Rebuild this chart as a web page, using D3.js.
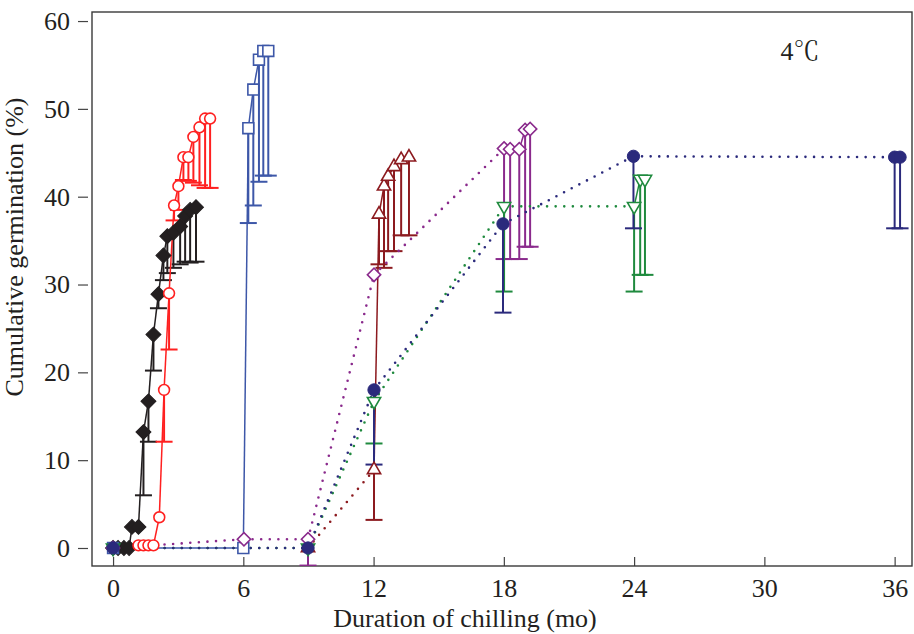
<!DOCTYPE html>
<html>
<head>
<meta charset="utf-8">
<script src="https://cdn.jsdelivr.net/npm/d3@7"></script>
<style>
  body { margin: 0; background: #fff; }
  text { font-family: "Liberation Serif", "Times New Roman", serif; fill: #231f20; }
</style>
</head>
<body>
<div class="chart"></div>
<script>
const xTicks = [0, 6, 12, 18, 24, 30, 36];
const yTicks = [0, 10, 20, 30, 40, 50, 60];

// black diamonds
const blackMo  = [0, 0.23, 0.5, 0.74, 0.87, 1.17, 1.4, 1.63, 1.86, 2.09, 2.32, 2.5, 2.78, 3.09, 3.32, 3.55, 3.82];
const blackVal = [0, 0, 0, 0, 2.4, 2.4, 13.2, 16.7, 24.3, 28.9, 33.3, 35.5, 35.9, 36.6, 37.8, 38.5, 38.8];
const blackLow = [null, null, null, null, null, null, 6.0, 12.1, 20.2, 27.3, 30.5, 31.3, 31.9, 32.3, 32.6, 32.5, 32.6];

// red open circles
const redMo  = [1.17, 1.4, 1.63, 1.86, 2.13, 2.35, 2.58, 2.81, 3.01, 3.24, 3.47, 3.7, 3.98, 4.24, 4.47];
const redVal = [0.3, 0.3, 0.3, 0.3, 3.5, 18.0, 29.0, 39.0, 41.2, 44.5, 44.5, 46.8, 47.9, 48.9, 48.9];
const redLow = [null, null, null, null, null, 12.1, 22.6, 37.3, 38.5, 41.9, 41.8, 41.6, 41.3, 41.0, 41.0];

// blue open squares
const blueMo  = [0, 6.0, 6.23, 6.46, 6.72, 6.92, 7.15];
const blueVal = [0, 0, 47.8, 52.2, 55.6, 56.6, 56.6];
const blueLow = [null, null, 37.0, 39.0, 41.7, 42.4, 42.4];

// dark red open triangles
const darkRedMo  = [8.98, 12.02, 12.25, 12.48, 12.67, 12.94, 13.27, 13.63];
const darkRedVal = [0, 8.9, 38.0, 41.2, 42.3, 43.4, 44.2, 44.5];
const darkRedLow = [null, 3.2, 32.3, 31.9, 33.8, 33.8, 35.6, 35.6];

// purple open diamonds
const purpleMo  = [0, 6.03, 8.98, 12.02, 18.01, 18.29, 18.71, 18.98, 19.21];
const purpleVal = [0, 1.0, 1.0, 31.1, 45.5, 45.4, 45.4, 47.6, 47.7];
const purpleLow = [null, null, -2.0, null, 32.9, 32.9, 32.9, 34.3, 34.3];

// green open down-triangles
const greenMo  = [0, 8.98, 12.02, 18.01, 24.0, 24.28, 24.5];
const greenVal = [0, 0, 16.7, 38.9, 38.9, 42.0, 42.0];
const greenLow = [null, null, 11.9, 29.2, 29.2, 31.1, 31.1];

// navy filled circles
const navyMo  = [0, 8.98, 12.02, 17.96, 23.97, 36.0, 36.25];
const navyVal = [0, 0, 18.0, 36.9, 44.6, 44.5, 44.5];
const navyLow = [null, null, 9.5, 26.8, 36.4, 36.4, 36.4];

const series = [
  {mo: blackMo, val: blackVal, low: blackLow, color: "#231f20", fill: "#231f20", shape: "diamond", size: 112, dotted: false},
  {mo: redMo, val: redVal, low: redLow, color: "#ff2020", fill: "#fff", shape: "circle", size: 92, dotted: false},
  {mo: blueMo, val: blueVal, low: blueLow, color: "#3d57a8", fill: "#fff", shape: "square", size: 118, dotted: false},
  {mo: darkRedMo, val: darkRedVal, low: darkRedLow, color: "#8c1a1f", fill: "#fff", shape: "triangle", size: 76, dotted: true},
  {mo: purpleMo, val: purpleVal, low: purpleLow, color: "#8a2a8c", fill: "#fff", shape: "diamond", size: 88, dotted: true},
  {mo: greenMo, val: greenVal, low: greenLow, color: "#1f8a3e", fill: "#fff", shape: "down", size: 76, dotted: true},
  {mo: navyMo, val: navyVal, low: navyLow, color: "#2b2a7c", fill: "#2b2a7c", shape: "circle", size: 118, dotted: true}
];

var margin = {top: 12, right: 2, bottom: 68, left: 92};
var width = 914 - margin.left - margin.right,
    height = 634 - margin.top - margin.bottom;

const svg = d3.select(".chart").append("svg")
    .attr("width", width + margin.left + margin.right)
    .attr("height", height + margin.top + margin.bottom)
  .append("g")
    .attr("transform", "translate(" + margin.left + "," + margin.top + ")");

const xScale = d3.scaleLinear().domain([-0.97, 36.8]).range([0, width]);
const yScale = d3.scaleLinear().domain([-2.05, 61.03]).range([height, 0]);

svg.append("clipPath").attr("id", "plotclip")
  .append("rect").attr("width", width).attr("height", height);

// axes
const xAxis = d3.axisBottom(xScale).tickValues(xTicks).tickSizeInner(-9).tickSizeOuter(0).tickPadding(13);
const yAxis = d3.axisLeft(yScale).tickValues(yTicks).tickSizeInner(10).tickSizeOuter(0).tickPadding(8);

svg.append("g")
    .attr("class", "axis x-axis")
    .attr("transform", `translate(0, ${height})`)
    .call(xAxis)
    .call(g => g.select(".domain").remove());

svg.append("g")
    .attr("class", "axis y-axis")
    .attr("transform", "translate(-4,0)")
    .call(yAxis)
    .call(g => g.select(".domain").remove());

svg.selectAll(".axis text").style("font-size", "26px").style("font-family", "Liberation Serif, serif").attr("fill", "#231f20");
svg.selectAll(".axis line").attr("stroke", "#444").attr("stroke-width", 1.2);

svg.append("rect")
    .attr("width", width).attr("height", height)
    .attr("fill", "none").attr("stroke", "#3a3a3a").attr("stroke-width", 1.4);

const plot = svg.append("g").attr("clip-path", "url(#plotclip)");
const marks = svg.append("g");

const shapes = {
  circle: d3.symbolCircle, square: d3.symbolSquare, diamond: d3.symbolSquare,
  triangle: d3.symbolTriangle, down: d3.symbolTriangle
};
const rot = {circle: 0, square: 0, diamond: 45, triangle: 0, down: 180};

series.forEach(s => {
  const pts = s.mo.map((m, i) => ({x: m, y: s.val[i], low: s.low[i]}));
  const g = plot.append("g");

  // lower error bars
  const bars = pts.filter(p => p.low !== null);
  g.selectAll(".bar").data(bars).join("line")
      .attr("x1", p => xScale(p.x)).attr("x2", p => xScale(p.x))
      .attr("y1", p => yScale(p.y)).attr("y2", p => yScale(p.low))
      .attr("stroke", s.color).attr("stroke-width", 2);
  g.selectAll(".cap").data(bars).join("line")
      .attr("x1", p => xScale(p.x) - 8.5).attr("x2", p => xScale(p.x) + 8.5)
      .attr("y1", p => yScale(p.low)).attr("y2", p => yScale(p.low))
      .attr("stroke", s.color).attr("stroke-width", 2);

  // connecting segments: dotted across long gaps
  const segs = d3.pairs(pts);
  g.selectAll(".seg").data(segs).join("line")
      .attr("x1", d => xScale(d[0].x)).attr("y1", d => yScale(d[0].y))
      .attr("x2", d => xScale(d[1].x)).attr("y2", d => yScale(d[1].y))
      .attr("stroke", s.color)
      .each(function(d) {
        const dot = s.dotted && (d[1].x - d[0].x) > 1;
        d3.select(this)
          .attr("stroke-width", dot ? 2.6 : 1.5)
          .attr("stroke-dasharray", dot ? "0 8.6" : null)
          .attr("stroke-linecap", dot ? "round" : "butt");
      });

  marks.append("g").selectAll("path").data(pts).join("path")
      .attr("d", d3.symbol().type(shapes[s.shape]).size(s.size))
      .attr("transform", p => `translate(${xScale(p.x)},${yScale(p.y)}) rotate(${rot[s.shape]})`)
      .attr("fill", s.fill)
      .attr("stroke", s.color)
      .attr("stroke-width", s.fill === "#fff" ? 1.6 : 1);
});

svg.append("text")
    .attr("x", 800 - margin.left).attr("y", 60 - margin.top)
    .attr("text-anchor", "middle")
    .style("font-size", "26px")
    .style("font-family", "Liberation Serif, Noto Serif CJK SC, Noto Sans CJK SC, serif")
    .text("4℃");

svg.append("text")
    .attr("x", 465 - margin.left).attr("y", 627 - margin.top)
    .attr("text-anchor", "middle")
    .style("font-size", "26px")
    .text("Duration of chilling (mo)");

svg.append("text")
    .attr("transform", `translate(${23 - margin.left},${247 - margin.top}) rotate(-90)`)
    .attr("text-anchor", "middle")
    .style("font-size", "26px")
    .text("Cumulative germination (%)");
</script>
</body>
</html>
